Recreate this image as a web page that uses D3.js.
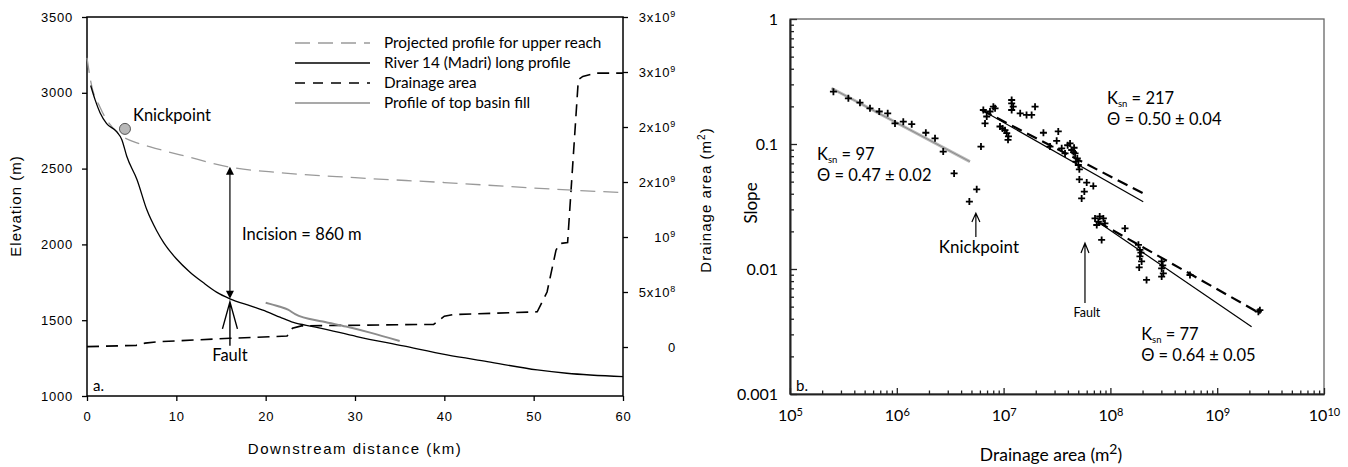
<!DOCTYPE html>
<html>
<head>
<meta charset="utf-8">
<script src="https://cdn.jsdelivr.net/npm/d3@7"></script>
<style>
body { margin: 0; background: #fff; }
svg { display: block; }
</style>
</head>
<body>
<script>
// ---- panel a : long profile (km, m) ----
var riverProfile = [[0.41,3048],[0.9,2955],[1.46,2869],[2.2,2797],[3.3,2745],[3.9,2691],[4.45,2581],[5.6,2427],
    [6.7,2228],[7.8,2090],[8.6,2010],[10,1905],[11.5,1818],[13,1748],[14.5,1685],[16,1641],[18.3,1594],[20.1,1557],
    [21.6,1520],[23.1,1485],[25.3,1458],[26.1,1448],[30.2,1392],[35.4,1330],[40.3,1271],[44.8,1227],[50.4,1172],
    [53.7,1150],[60,1128]]
var projectedProfile = [[0,3230],[0.4,3080],[1.5,2900],[3.4,2737],[5.2,2678],[7,2645],[11.2,2579],[15.8,2512],
    [21.6,2473],[30,2440],[40,2408],[50,2372],[60,2341]]
var basinFill = [[20,1615],[21.5,1590],[22.5,1570],[23.3,1540],[26.4,1491],[29,1458],[31.7,1418],[35,1363]]
// drainage area (km, m2) on the right axis
var drainageArea = [[0,3e6],[5.5,1.5e7],[6.5,3.5e7],[8,4.8e7],[16,7.9e7],[22.4,1.0e8],[23,1.7e8],[24,1.92e8],
    [38.8,2.06e8],[40,2.8e8],[41,2.95e8],[50.4,3.2e8],[51.5,5.0e8],[52.5,8.8e8],[52.9,9.4e8],[53.8,9.5e8],
    [55,2.43e9],[55.5,2.46e9],[56.9,2.49e9],[60,2.49e9]]
var knickpointA = [4.25, 2762]
var faultKm = 16

var distTicks = [0,10,20,30,40,50,60]
var elevTicks = [1000,1500,2000,2500,3000,3500]
var areaTicks = [0,5e8,1e9,1.5e9,2e9,2.5e9,3e9]
var areaTickLabels = [["0",""],["5x10","8"],["10","9"],["2x10","9"],["2x10","9"],["3x10","9"],["3x10","9"]]
var legendLabels = ["Projected profile for upper reach","River 14 (Madri) long profile","Drainage area","Profile of top basin fill"]

// ---- panel b : slope-area (m2, m/m) ----
var upperReach = [[2.55e5,0.262],[3.52e5,0.232],[4.52e5,0.214],[5.61e5,0.193],[6.85e5,0.182],[8.22e5,0.176],
    [9.62e5,0.146],[1.15e6,0.151],[1.38e6,0.144],[1.87e6,0.123],[2.28e6,0.111],[2.72e6,0.0869],[3.44e6,0.0582]]
var knickPts = [[5.6e6,0.0434],[4.78e6,0.0346],[6.14e6,0.0953]]
var midReach = [[6.46e6,0.187],[6.95e6,0.166],[6.70e6,0.146],[7.46e6,0.182],[8.02e6,0.199],[8.32e6,0.193],
    [1.19e7,0.225],[1.19e7,0.211],[1.23e7,0.199],[1.19e7,0.187],[1.43e7,0.176],[1.64e7,0.171],[1.83e7,0.171],
    [1.97e7,0.199],[9.25e6,0.138],[9.77e6,0.133],[1.03e7,0.129],[1.07e7,0.122],[1.11e7,0.115],[1.10e7,0.108],
    [2.36e7,0.123],[3.25e7,0.126],[3.14e7,0.106],[2.72e7,0.0953],[3.50e7,0.0923],[3.76e7,0.0841],[4.19e7,0.101],
    [4.34e7,0.0895],[3.98e7,0.0977],[4.67e7,0.0841],[4.90e7,0.0767],[4.76e7,0.0723],[5.01e7,0.0679],
    [5.12e7,0.0627],[5.12e7,0.0521],[6.0e7,0.0491],[6.92e7,0.0461],[5.70e7,0.0416],[5.38e7,0.0367],
    [4.52e7,0.0861],[4.57e7,0.0933]]
var lowerReach = [[7.18e7,0.0254],[7.71e7,0.0239],[8.59e7,0.0254],[7.45e7,0.0225],[8.89e7,0.0232],[7.94e7,0.0263],
    [8.28e7,0.0171],[1.37e8,0.0211],[1.83e8,0.0156],[1.89e8,0.0142],[1.89e8,0.0126],[1.96e8,0.0115],[1.86e8,0.0103],
    [1.93e8,0.0135],[2.18e8,0.00817],[3.02e8,0.0115],[3.02e8,0.0101],[3.13e8,0.00923],[3.02e8,0.00869],
    [3.09e8,0.0107],[5.56e8,0.00895],[2.43e9,0.00456],[2.51e9,0.00468]]
var fitUpper = [[2.45e5,0.279],[4.84e6,0.0723]]
var fitMidSolid = [[6.24e6,0.187],[2.03e8,0.0345]]
var fitMidDash = [[6.24e6,0.187],[2.03e8,0.0403]]
var fitLowSolid = [[7.66e7,0.0238],[2.10e9,0.00345]]
var fitLowDash = [[7.66e7,0.0238],[2.43e9,0.00449]]
var ksnLabels = ["97","217","77"]
var thetaLabels = ["0.47 ± 0.02","0.50 ± 0.04","0.64 ± 0.05"]
var slopeTicks = [0.001,0.01,0.1,1]
var areaLogTicks = [1e5,1e6,1e7,1e8,1e9,1e10]

var arial = "Liberation Sans, Arial, sans-serif"
var myriad = "Lato, Open Sans, sans-serif"

var svg = d3.select("body").append("svg").attr("width", 1348).attr("height", 467)

// ================= panel a =================
var xA = d3.scaleLinear().domain([0,60]).range([87,623])
var yA = d3.scaleLinear().domain([1000,3500]).range([396,17])
var yArea = d3.scaleLinear().domain([0,3e9]).range([347,17])

var gLeft = svg.append("g").attr("transform","translate(87,0)")
    .call(d3.axisLeft(yA).tickValues(elevTicks).tickSize(5).tickPadding(9).tickFormat(d3.format("d")))
var gBot = svg.append("g").attr("transform","translate(0,396)")
    .call(d3.axisBottom(xA).tickValues(distTicks).tickSize(5).tickPadding(11))
var gRight = svg.append("g").attr("transform","translate(623,0)")
    .call(d3.axisRight(yArea).tickValues(areaTicks).tickSize(5).tickFormat(""))

;[gLeft,gBot,gRight].forEach(function(g){
    g.select(".domain").remove()
    g.attr("font-family", arial).attr("font-size", 13)
    g.selectAll("line").attr("stroke","#000").attr("stroke-width",1.3)
    g.selectAll("text").attr("fill","#000").attr("letter-spacing",0.8)
})
gRight.selectAll(".tick text").attr("x",53).attr("text-anchor","end")
    .each(function(d,i){
        var t = d3.select(this), lab = areaTickLabels[i]
        t.append("tspan").text(lab[0])
        if (lab[1]) t.append("tspan").attr("font-size",9).attr("dy",-5).text(lab[1])
    })

svg.append("rect").attr("x",87).attr("y",17).attr("width",536).attr("height",379)
    .attr("fill","none").attr("stroke","#000").attr("stroke-width",1.5)

var lineA = d3.line().x(function(d){return xA(d[0])}).y(function(d){return yA(d[1])})
var lineArea = d3.line().x(function(d){return xA(d[0])}).y(function(d){return yArea(d[1])})

svg.append("path").attr("d", lineArea(drainageArea)).attr("fill","none")
    .attr("stroke","#000").attr("stroke-width",1.6).attr("stroke-dasharray","12,7")
svg.append("path").attr("d", lineA.curve(d3.curveMonotoneX)(projectedProfile)).attr("fill","none")
    .attr("stroke","#9a9a9a").attr("stroke-width",1.3).attr("stroke-dasharray","15,8")
svg.append("path").attr("d", lineA(basinFill)).attr("fill","none")
    .attr("stroke","#8c8c8c").attr("stroke-width",2)
svg.append("path").attr("d", lineA(riverProfile)).attr("fill","none")
    .attr("stroke","#000").attr("stroke-width",1.3)

// knickpoint
svg.append("circle").attr("cx",xA(knickpointA[0])).attr("cy",yA(knickpointA[1])).attr("r",5.5)
    .attr("fill","#b8b8b8").attr("stroke","#555").attr("stroke-width",1)
svg.append("text").attr("x",xA(knickpointA[0])+8).attr("y",yA(knickpointA[1])-8)
    .attr("font-family",myriad).attr("font-size",16.5).text("Knickpoint")

// incision double arrow
var fx = xA(faultKm), yTop = yA(2512), yBot = yA(1641)
svg.append("line").attr("x1",fx).attr("x2",fx).attr("y1",yTop+2).attr("y2",yBot-2).attr("stroke","#000").attr("stroke-width",1.2)
svg.append("path").attr("d","M"+fx+","+yTop+"l-4,8h8z").attr("fill","#000")
svg.append("path").attr("d","M"+fx+","+yBot+"l-4,-8h8z").attr("fill","#000")
svg.append("text").attr("x",fx+12).attr("y",240).attr("font-family",myriad).attr("font-size",16.5).text("Incision = 860 m")

// fault arrow
var ftip = yBot + 3
svg.append("path").attr("d","M"+fx+","+(ftip+44)+"V"+ftip+"M"+(fx-7.5)+","+(ftip+27)+"L"+fx+","+ftip+"L"+(fx+7.5)+","+(ftip+27))
    .attr("fill","none").attr("stroke","#000").attr("stroke-width",1.4)
svg.append("text").attr("x",fx).attr("y",361).attr("text-anchor","middle").attr("font-family",myriad).attr("font-size",16.5).text("Fault")
svg.append("text").attr("x",93).attr("y",391).attr("font-family",myriad).attr("font-size",15).text("a.")

// legend
var legStyles = [
    {stroke:"#9a9a9a", w:1.3, dash:"15,8"},
    {stroke:"#000", w:1.3, dash:null},
    {stroke:"#000", w:1.6, dash:"10,8"},
    {stroke:"#8c8c8c", w:1.3, dash:null}]
var leg = svg.append("g").selectAll("g").data(legendLabels).enter().append("g")
    .attr("transform", function(d,i){ return "translate(0,"+(43+i*20)+")" })
leg.append("line").attr("x1",295).attr("x2",370).attr("y1",0).attr("y2",0)
    .attr("stroke",function(d,i){return legStyles[i].stroke}).attr("stroke-width",function(d,i){return legStyles[i].w})
    .attr("stroke-dasharray",function(d,i){return legStyles[i].dash})
leg.append("text").attr("x",384).attr("y",5).attr("font-family",myriad).attr("font-size",15.3).text(function(d){return d})

// axis titles
svg.append("text").attr("transform","translate(21,206) rotate(-90)").attr("text-anchor","middle")
    .attr("font-family",arial).attr("font-size",15).attr("letter-spacing",1).text("Elevation (m)")
svg.append("text").attr("x",355).attr("y",454).attr("text-anchor","middle")
    .attr("font-family",arial).attr("font-size",15).attr("letter-spacing",1.5).text("Downstream distance (km)")
var rt = svg.append("text").attr("transform","translate(711,200) rotate(-90)").attr("text-anchor","middle")
    .attr("font-family",arial).attr("font-size",15).attr("letter-spacing",1)
rt.append("tspan").text("Drainage area (m")
rt.append("tspan").attr("font-size",10).attr("dy",-6).text("2")
rt.append("tspan").attr("dy",6).text(")")

// ================= panel b =================
var xB = d3.scaleLog().domain([1e5,1e10]).range([790,1324])
var yB = d3.scaleLog().domain([0.001,1]).range([394,19])

svg.append("rect").attr("x",790).attr("y",19).attr("width",534).attr("height",375)
    .attr("fill","none").attr("stroke","#666").attr("stroke-width",1.3)

var minorY = yB.ticks().filter(function(d){ return slopeTicks.indexOf(d) < 0 })
var minorX = xB.ticks().filter(function(d){ return areaLogTicks.indexOf(d) < 0 })

var gBL = svg.append("g").attr("transform","translate(790,0)")
    .call(d3.axisLeft(yB).tickValues(slopeTicks).tickSizeInner(-7).tickSizeOuter(0).tickPadding(12).tickFormat(function(d){return String(d)}))
var gBLm = svg.append("g").attr("transform","translate(790,0)")
    .call(d3.axisLeft(yB).tickValues(minorY).tickSizeInner(-4).tickSizeOuter(0).tickFormat(""))
var gBB = svg.append("g").attr("transform","translate(0,394)")
    .call(d3.axisBottom(xB).tickValues(areaLogTicks).tickSizeInner(-6).tickSizeOuter(0).tickPadding(16).tickFormat(""))
var gBBm = svg.append("g").attr("transform","translate(0,394)")
    .call(d3.axisBottom(xB).tickValues(minorX).tickSizeInner(-3.5).tickSizeOuter(0).tickFormat(""))

;[gBL,gBLm,gBB,gBBm].forEach(function(g){
    g.attr("font-family", myriad).attr("font-size", 16)
    g.select(".domain").attr("stroke","#222").attr("stroke-width",1.6)
    g.selectAll("line").attr("stroke","#222").attr("stroke-width",1.3)
    g.selectAll("text").attr("fill","#000")
})
gBB.selectAll(".tick text").each(function(d){
    var t = d3.select(this)
    t.append("tspan").text("10")
    t.append("tspan").attr("font-size",11).attr("dy",-5).text(String(Math.round(Math.log10(d))))
})

var lineB = d3.line().x(function(d){return xB(d[0])}).y(function(d){return yB(d[1])})

svg.append("path").attr("d",lineB(fitUpper)).attr("stroke","#b8b8b8").attr("stroke-width",3).attr("fill","none")
svg.append("path").attr("d",lineB(fitUpper)).attr("stroke","#777").attr("stroke-width",0.7).attr("fill","none")
;[fitMidSolid, fitLowSolid].forEach(function(f){
    svg.append("path").attr("d",lineB(f)).attr("stroke","#000").attr("stroke-width",1.2).attr("fill","none")
})
;[fitMidDash, fitLowDash].forEach(function(f){
    svg.append("path").attr("d",lineB(f)).attr("stroke","#000").attr("stroke-width",2.2)
        .attr("stroke-dasharray","11,6").attr("fill","none")
})

var allPts = upperReach.concat(knickPts, midReach, lowerReach)
svg.append("g").selectAll("path").data(allPts).enter().append("path")
    .attr("transform",function(d){ return "translate("+xB(d[0])+","+yB(d[1])+")" })
    .attr("d","M-3.5,0H3.5M0,-3.5V3.5").attr("stroke","#000").attr("stroke-width",1.8)

// ksn labels
var ksnPos = [[1.79e5,0.0745],[9.3e7,0.209],[1.94e8,0.0027]]
ksnPos.forEach(function(p,i){
    var x = xB(p[0]), y = yB(p[1])
    var t = svg.append("text").attr("x",x).attr("y",y).attr("font-family",myriad).attr("font-size",16.5)
    t.append("tspan").text("K")
    t.append("tspan").attr("font-size",9.5).attr("dy",3).text("sn")
    t.append("tspan").attr("dy",-3).text(" = "+ksnLabels[i])
    svg.append("text").attr("x",x).attr("y",y+21).attr("font-family",myriad).attr("font-size",16.5)
        .text("Θ = "+thetaLabels[i])
})

// knickpoint & fault arrows
var kx = xB(5.5e6), ky = yB(0.0134)
svg.append("path").attr("d","M"+kx+","+(ky-16)+"V"+(ky-40)+"M"+(kx-4)+","+(ky-31)+"L"+kx+","+(ky-40)+"L"+(kx+4)+","+(ky-31))
    .attr("fill","none").attr("stroke","#000").attr("stroke-width",1.2)
svg.append("text").attr("x",kx+3).attr("y",ky).attr("text-anchor","middle").attr("font-family",myriad).attr("font-size",17).text("Knickpoint")
var bx = xB(5.78e7)
svg.append("path").attr("d","M"+bx+",303V243M"+(bx-4)+",253L"+bx+",243L"+(bx+4)+",253")
    .attr("fill","none").attr("stroke","#000").attr("stroke-width",1.2)
svg.append("text").attr("x",bx+2).attr("y",317).attr("text-anchor","middle").attr("font-family",myriad).attr("font-size",12.5).text("Fault")
svg.append("text").attr("x",796).attr("y",391).attr("font-family",myriad).attr("font-size",15).text("b.")

// axis titles
svg.append("text").attr("transform","translate(757,203) rotate(-90)").attr("text-anchor","middle")
    .attr("font-family",myriad).attr("font-size",17).text("Slope")
var bt = svg.append("text").attr("x",1051).attr("y",461).attr("text-anchor","middle")
    .attr("font-family",myriad).attr("font-size",17.5)
bt.append("tspan").text("Drainage area (m")
bt.append("tspan").attr("font-size",14).attr("dy",-7).text("2")
bt.append("tspan").attr("dy",7).text(")")
</script>
</body>
</html>
